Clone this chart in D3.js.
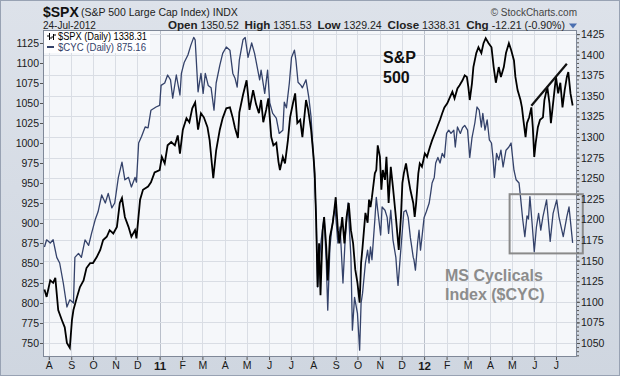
<!DOCTYPE html>
<html><head><meta charset="utf-8">
<script src="https://cdn.jsdelivr.net/npm/d3@7"></script>
<style>
body{margin:0;background:#fff}
svg{display:block}
text{font-family:"Liberation Sans",Arial,sans-serif}
</style>
</head><body>
<svg id="c" width="620" height="376"></svg>
<script>
// ---------- DATA ----------
const spxDates = ["10-07-26","10-07-29","10-08-03","10-08-07","10-08-10","10-08-14","10-08-19","10-08-23","10-08-26","10-08-30",
"10-09-02","10-09-04","10-09-09","10-09-13","10-09-18","10-09-22","10-09-27","10-10-01","10-10-06","10-10-11",
"10-10-15","10-10-20","10-10-24","10-10-29","10-11-03","10-11-07","10-11-10","10-11-14","10-11-19","10-11-23",
"10-11-28","10-11-30","10-12-05","10-12-09","10-12-16","10-12-20","10-12-25","11-01-01","11-01-04","11-01-08",
"11-01-12","11-01-17","11-01-22","11-01-26","11-01-29","11-02-02","11-02-07","11-02-11","11-02-15","11-02-19",
"11-02-23","11-02-27","11-03-03","11-03-08","11-03-11","11-03-14","11-03-16","11-03-20","11-03-25","11-03-29",
"11-04-03","11-04-08","11-04-12","11-04-15","11-04-19","11-04-21","11-04-26","11-05-01","11-05-05","11-05-10",
"11-05-14","11-05-18","11-05-21","11-05-24","11-05-28","11-05-31","11-06-04","11-06-07","11-06-11","11-06-14",
"11-06-16","11-06-20","11-06-23","11-06-27","11-06-30","11-07-04","11-07-07","11-07-10","11-07-14","11-07-17",
"11-07-22","11-07-25","11-07-29","11-08-01","11-08-03","11-08-05","11-08-07","11-08-09","11-08-11","11-08-14",
"11-08-16","11-08-19","11-08-21","11-08-24","11-08-28","11-08-30","11-09-01","11-09-04","11-09-06","11-09-10",
"11-09-13","11-09-16","11-09-19","11-09-22","11-09-25","11-09-28","11-10-01","11-10-04","11-10-06","11-10-08",
"11-10-10","11-10-12","11-10-15","11-10-17","11-10-19","11-10-21","11-10-25","11-10-27","11-10-29","11-11-01",
"11-11-03","11-11-05","11-11-08","11-11-10","11-11-13","11-11-16","11-11-19","11-11-23","11-11-25","11-11-27",
"11-11-30","11-12-02","11-12-04","11-12-07","11-12-10","11-12-13","11-12-17","11-12-19","11-12-21","11-12-24",
"11-12-26","11-12-29","12-01-02","12-01-05","12-01-09","12-01-12","12-01-16","12-01-19","12-01-23","12-01-26",
"12-01-29","12-02-02","12-02-06","12-02-09","12-02-12","12-02-16","12-02-19","12-02-23","12-02-26","12-02-29",
"12-03-02","12-03-04","12-03-07","12-03-09","12-03-13","12-03-16","12-03-20","12-03-23","12-03-26","12-03-30",
"12-04-03","12-04-06","12-04-09","12-04-13","12-04-16","12-04-20","12-04-23","12-04-27","12-04-30","12-05-04",
"12-05-06","12-05-09","12-05-13","12-05-15","12-05-17","12-05-20","12-05-22","12-05-25","12-05-28","12-05-30",
"12-06-01","12-06-03","12-06-06","12-06-09","12-06-13","12-06-15","12-06-19","12-06-22","12-06-24","12-06-28",
"12-07-01","12-07-04","12-07-07","12-07-10","12-07-13","12-07-16","12-07-18","12-07-21","12-07-24"];
const spxClose = [1115,1106,1126,1123,1129,1090,1078,1069,1050,1044,
1078,1090,1106,1118,1126,1141,1147,1147,1154,1163,
1175,1179,1187,1183,1191,1220,1226,1203,1191,1179,
1187,1177,1224,1236,1240,1245,1257,1260,1276,1268,
1290,1294,1290,1302,1280,1309,1323,1318,1335,1342,
1309,1329,1324,1312,1296,1268,1250,1284,1309,1323,
1335,1336,1323,1311,1299,1330,1351,1369,1333,1357,
1340,1329,1345,1318,1333,1347,1300,1290,1293,1270,
1260,1276,1268,1296,1324,1341,1353,1317,1321,1300,
1345,1333,1309,1280,1256,1199,1118,1171,1108,1187,
1203,1166,1126,1179,1196,1211,1227,1187,1171,1203,
1171,1203,1220,1187,1171,1139,1123,1099,1147,1166,
1187,1208,1196,1224,1215,1227,1256,1260,1290,1276,
1236,1260,1248,1276,1220,1264,1239,1203,1183,1163,
1203,1244,1256,1268,1251,1236,1220,1203,1220,1256,
1268,1264,1280,1276,1288,1296,1305,1312,1321,1329,
1336,1341,1349,1355,1347,1359,1363,1369,1375,1373,
1361,1345,1365,1385,1402,1409,1402,1414,1420,1414,
1409,1385,1366,1385,1373,1385,1402,1414,1406,1393,
1373,1357,1345,1336,1321,1300,1317,1324,1336,1312,
1276,1293,1312,1321,1324,1345,1361,1341,1317,1349,
1373,1353,1366,1336,1357,1373,1379,1353,1338.31];

const cycDates = ["10-07-26","10-07-29","10-08-03","10-08-07","10-08-12","10-08-16","10-08-21","10-08-26","10-08-30","10-09-04",
"10-09-06","10-09-11","10-09-15","10-09-20","10-09-25","10-09-29","10-10-04","10-10-08","10-10-13","10-10-18",
"10-10-22","10-10-27","10-10-31","10-11-05","10-11-10","10-11-14","10-11-19","10-11-23","10-11-28","10-11-30",
"10-12-03","10-12-07","10-12-12","10-12-16","10-12-20","10-12-27","11-01-01","11-01-03","11-01-08","11-01-12",
"11-01-16","11-01-19","11-01-24","11-01-29","11-01-31","11-02-04","11-02-09","11-02-13","11-02-17","11-02-19",
"11-02-23","11-02-27","11-03-02","11-03-05","11-03-09","11-03-13","11-03-17","11-03-20","11-03-25","11-03-29",
"11-04-03","11-04-08","11-04-12","11-04-15","11-04-18","11-04-21","11-04-26","11-04-29","11-05-03","11-05-08",
"11-05-12","11-05-19","11-05-21","11-05-26","11-05-30","11-06-02","11-06-06","11-06-11","11-06-15","11-06-20",
"11-06-22","11-06-25","11-06-29","11-07-02","11-07-06","11-07-08","11-07-11","11-07-15","11-07-17","11-07-22",
"11-07-26","11-07-29","11-07-31","11-08-02","11-08-05","11-08-07","11-08-09","11-08-12","11-08-16","11-08-19",
"11-08-21","11-08-24","11-08-28","11-08-31","11-09-04","11-09-07","11-09-11","11-09-14","11-09-18","11-09-22",
"11-09-24","11-09-27","11-10-01","11-10-04","11-10-06","11-10-08","11-10-12","11-10-15","11-10-17","11-10-19",
"11-10-21","11-10-25","11-10-27","11-10-29","11-11-02","11-11-04","11-11-08","11-11-11","11-11-13","11-11-16",
"11-11-19","11-11-23","11-11-25","11-11-26","11-11-29","11-12-02","11-12-04","11-12-07","11-12-10","11-12-13",
"11-12-17","11-12-18","11-12-20","11-12-23","11-12-25","11-12-27","11-12-29","12-01-01","12-01-04","12-01-08",
"12-01-10","12-01-12","12-01-15","12-01-17","12-01-20","12-01-23","12-01-26","12-01-29","12-02-01","12-02-04",
"12-02-07","12-02-11","12-02-13","12-02-16","12-02-20","12-02-23","12-02-26","12-03-01","12-03-04","12-03-07",
"12-03-11","12-03-14","12-03-17","12-03-20","12-03-22","12-03-25","12-03-28","12-03-31","12-04-03","12-04-05",
"12-04-07","12-04-10","12-04-13","12-04-16","12-04-19","12-04-23","12-04-27","12-04-30","12-05-04","12-05-07",
"12-05-11","12-05-13","12-05-16","12-05-19","12-05-22","12-05-24","12-05-26","12-05-29","12-06-01","12-06-04",
"12-06-07","12-06-10","12-06-13","12-06-18","12-06-23","12-06-27","12-07-02","12-07-05","12-07-11","12-07-16",
"12-07-19","12-07-24"];
const cycClose = [870,879,875,879,857,850,825,795,804,800,
857,862,857,879,872,887,904,914,935,925,
937,919,925,957,976,954,957,945,957,951,
1000,1008,1020,1019,1041,1045,1047,1072,1075,1085,
1079,1056,1085,1060,1087,1101,1110,1122,1132,1129,
1064,1087,1062,1087,1072,1069,1041,1075,1097,1112,
1120,1116,1087,1081,1070,1104,1129,1132,1107,1125,
1112,1079,1091,1062,1091,1050,1037,1031,1012,1016,
1051,1044,1075,1107,1116,1104,1076,1072,1069,1079,
1056,1032,1000,975,907,820,850,879,907,850,
791,870,904,920,875,895,825,879,925,857,
766,807,787,741,800,812,850,866,850,870,
854,904,932,916,885,920,916,907,887,916,
879,857,832,822,857,891,914,916,907,882,
857,854,841,875,891,866,882,907,914,925,
937,950,957,975,982,975,987,982,1012,1016,
1012,1016,995,1020,1012,1019,1022,1016,982,1006,
1025,1045,1041,1020,1037,1016,1029,1004,1000,982,
957,987,979,991,970,991,995,1000,966,954,
950,933,905,883,909,905,933,900,864,895,
912,891,908,929,877,912,929,908,883,908,
920,875.16];

const spxTicks = [1050,1075,1100,1125,1150,1175,1200,1225,1250,1275,1300,1325,1350,1375,1400,1425];
const cycTicks = [750,775,800,825,850,875,900,925,950,975,1000,1025,1050,1075,1100,1125];
const xDomain = ["10-07-24","12-07-30"];
const trendDates = ["12-05-28","12-07-16"];
const trendValues = [1338,1389];
const boxDates = ["12-04-28","12-08-07"];
const boxCyc = [862,936];
const legendSpx = "$SPX (Daily) 1338.31";
const legendCyc = "$CYC (Daily) 875.16";

// ---------- CHART ----------
const parse = d3.utcParse("%y-%m-%d");
const L=43, R=577, T=30, B=357;
const svg = d3.select("#c");
const x = d3.scaleUtc().domain(xDomain.map(parse)).range([L,R]);
const ySpx = d3.scaleLinear().domain([1033,1430]).range([B,T]);
const yCyc = d3.scaleLinear().domain([732.5,1141.25]).range([B,T]);

const defs = svg.append("defs");
const g = defs.append("linearGradient").attr("id","bg").attr("x1",0).attr("y1",0).attr("x2",0).attr("y2",1);
g.append("stop").attr("offset","0%").attr("stop-color","#dde2ea");
g.append("stop").attr("offset","100%").attr("stop-color","#cfd6e0");
svg.append("rect").attr("x",0.5).attr("y",0.5).attr("width",619).attr("height",375)
  .attr("fill","url(#bg)").attr("stroke","#98a2b3");

// plot area
svg.append("rect").attr("x",L).attr("y",T).attr("width",R-L).attr("height",B-T).attr("fill","#f5f7fa");

const months = d3.utcMonth.range(parse("10-08-01"), x.domain()[1]);
svg.append("g").selectAll("line").data(months).join("line")
  .attr("x1",d=>Math.round(x(d))+0.5).attr("x2",d=>Math.round(x(d))+0.5)
  .attr("y1",T).attr("y2",B)
  .attr("stroke",d=>d.getUTCMonth()===0?"#b9bfca":"#d9dde4").attr("stroke-width",1);
svg.append("g").selectAll("line").data(spxTicks).join("line")
  .attr("x1",L).attr("x2",R)
  .attr("y1",d=>Math.round(ySpx(d))+0.5).attr("y2",d=>Math.round(ySpx(d))+0.5)
  .attr("stroke","#d9dde4");

svg.append("rect").attr("x",L+0.5).attr("y",T+0.5).attr("width",R-L-1).attr("height",B-T-1)
  .attr("fill","none").attr("stroke","#7f8898");

// lines
const cycData = cycDates.map((d,i)=>({d:parse(d),v:cycClose[i]}));
const spxData = spxDates.map((d,i)=>({d:parse(d),v:spxClose[i]}));
svg.append("path").datum(cycData)
  .attr("d",d3.line().x(d=>x(d.d)).y(d=>yCyc(d.v)))
  .attr("fill","none").attr("stroke","#34426a").attr("stroke-width",1.3).attr("stroke-linejoin","round");
svg.append("path").datum(spxData)
  .attr("d",d3.line().x(d=>x(d.d)).y(d=>ySpx(d.v)))
  .attr("fill","none").attr("stroke","#000").attr("stroke-width",1.8).attr("stroke-linejoin","miter");

// annotations
svg.append("line")
  .attr("x1",x(parse(trendDates[0]))).attr("y1",ySpx(trendValues[0]))
  .attr("x2",x(parse(trendDates[1]))).attr("y2",ySpx(trendValues[1]))
  .attr("stroke","#111").attr("stroke-width",2.2);
svg.append("rect")
  .attr("x",x(parse(boxDates[0]))).attr("y",yCyc(boxCyc[1]))
  .attr("width",x(parse(boxDates[1]))-x(parse(boxDates[0])))
  .attr("height",yCyc(boxCyc[0])-yCyc(boxCyc[1]))
  .attr("fill","none").attr("stroke","#8a8a8a").attr("stroke-width",2);

svg.append("text").attr("x",383).attr("y",63).attr("font-size",16).attr("font-weight","bold").attr("fill","#111").text("S&P");
svg.append("text").attr("x",383).attr("y",83).attr("font-size",16).attr("font-weight","bold").attr("fill","#111").text("500");
svg.append("text").attr("x",445).attr("y",281).attr("font-size",16).attr("font-weight","bold").attr("fill","#8c8c8c").text("MS Cyclicals");
svg.append("text").attr("x",445).attr("y",300).attr("font-size",16).attr("font-weight","bold").attr("fill","#8c8c8c").text("Index ($CYC)");

// axes
const fmtN = d3.format("d");
const axL = svg.append("g").attr("transform",`translate(${L},0)`)
  .call(d3.axisLeft(yCyc).tickValues(cycTicks).tickSize(3).tickPadding(1).tickFormat(fmtN));
const axR = svg.append("g").attr("transform",`translate(${R},0)`)
  .call(d3.axisRight(ySpx).tickValues(spxTicks).tickSize(3).tickPadding(1).tickFormat(fmtN));
const axRm = svg.append("g").attr("transform",`translate(${R},0)`)
  .call(d3.axisRight(ySpx).tickValues(d3.range(1035,1430,5)).tickSize(2).tickFormat(""));
const fmtM = d => d.getUTCMonth()===0 ? d3.utcFormat("%y")(d) : d3.utcFormat("%b")(d)[0];
const axB = svg.append("g").attr("transform",`translate(0,${B})`)
  .call(d3.axisBottom(x).tickValues(months).tickSize(3).tickPadding(2).tickFormat(fmtM));
[axL,axR,axRm,axB].forEach(a=>{
  a.select(".domain").remove();
  a.selectAll("line").attr("stroke","#555");
  a.selectAll("text").attr("font-size",10.5).attr("fill","#1a1a1a")
   .attr("font-family",'"Liberation Sans",Arial,sans-serif');
});
axB.selectAll("text").filter(d=>d.getUTCMonth()===0).attr("font-weight","bold").attr("font-size",11.5);

// legend
svg.append("rect").attr("x",44).attr("y",31).attr("width",106).attr("height",22).attr("fill","#fff").attr("opacity",0.85);
svg.append("path").attr("d","M49.5,33V40M47,36H49.5M49.5,38H52M53.5,34V40M51.5,37H53.5M53.5,35H56")
  .attr("stroke","#000").attr("stroke-width",1).attr("fill","none");
svg.append("text").attr("x",58).attr("y",40).attr("font-size",10).attr("fill","#000")
  .attr("textLength",89).attr("lengthAdjust","spacingAndGlyphs").text(legendSpx);
svg.append("line").attr("x1",47).attr("x2",54).attr("y1",47).attr("y2",47).attr("stroke","#34426a").attr("stroke-width",2);
svg.append("text").attr("x",58).attr("y",51).attr("font-size",10).attr("fill","#34426a")
  .attr("textLength",88).attr("lengthAdjust","spacingAndGlyphs").text(legendCyc);

// header
svg.append("text").attr("x",43).attr("y",17).attr("font-size",14).attr("font-weight","bold").attr("fill","#111").text("$SPX");
svg.append("text").attr("x",81).attr("y",16).attr("font-size",10.5).attr("fill","#222").text("(S&P 500 Large Cap Index) INDX");
svg.append("text").attr("x",577).attr("y",16).attr("text-anchor","end").attr("font-size",10).attr("fill","#444")
  .text("© StockCharts.com");
svg.append("text").attr("x",43).attr("y",28.5).attr("font-size",10).attr("fill","#222").text("24-Jul-2012");
const st = svg.append("text").attr("x",168).attr("y",28.5).attr("fill","#222")
  .attr("textLength",397).attr("lengthAdjust","spacingAndGlyphs");
[["Open",1],[" 1350.52  ",0],["High",1],[" 1351.53  ",0],["Low",1],[" 1329.24  ",0],["Close",1],[" 1338.31  ",0],["Chg",1],[" -12.21 (-0.90%)",0]]
 .forEach(([t,b])=>st.append("tspan").attr("font-weight",b?"bold":"normal").attr("font-size",b?11:10).attr("xml:space","preserve").text(t));
svg.append("path").attr("d","M569,23.5L577,23.5L573,28.5Z").attr("fill","#4a6fb0");
</script>
</body></html>
